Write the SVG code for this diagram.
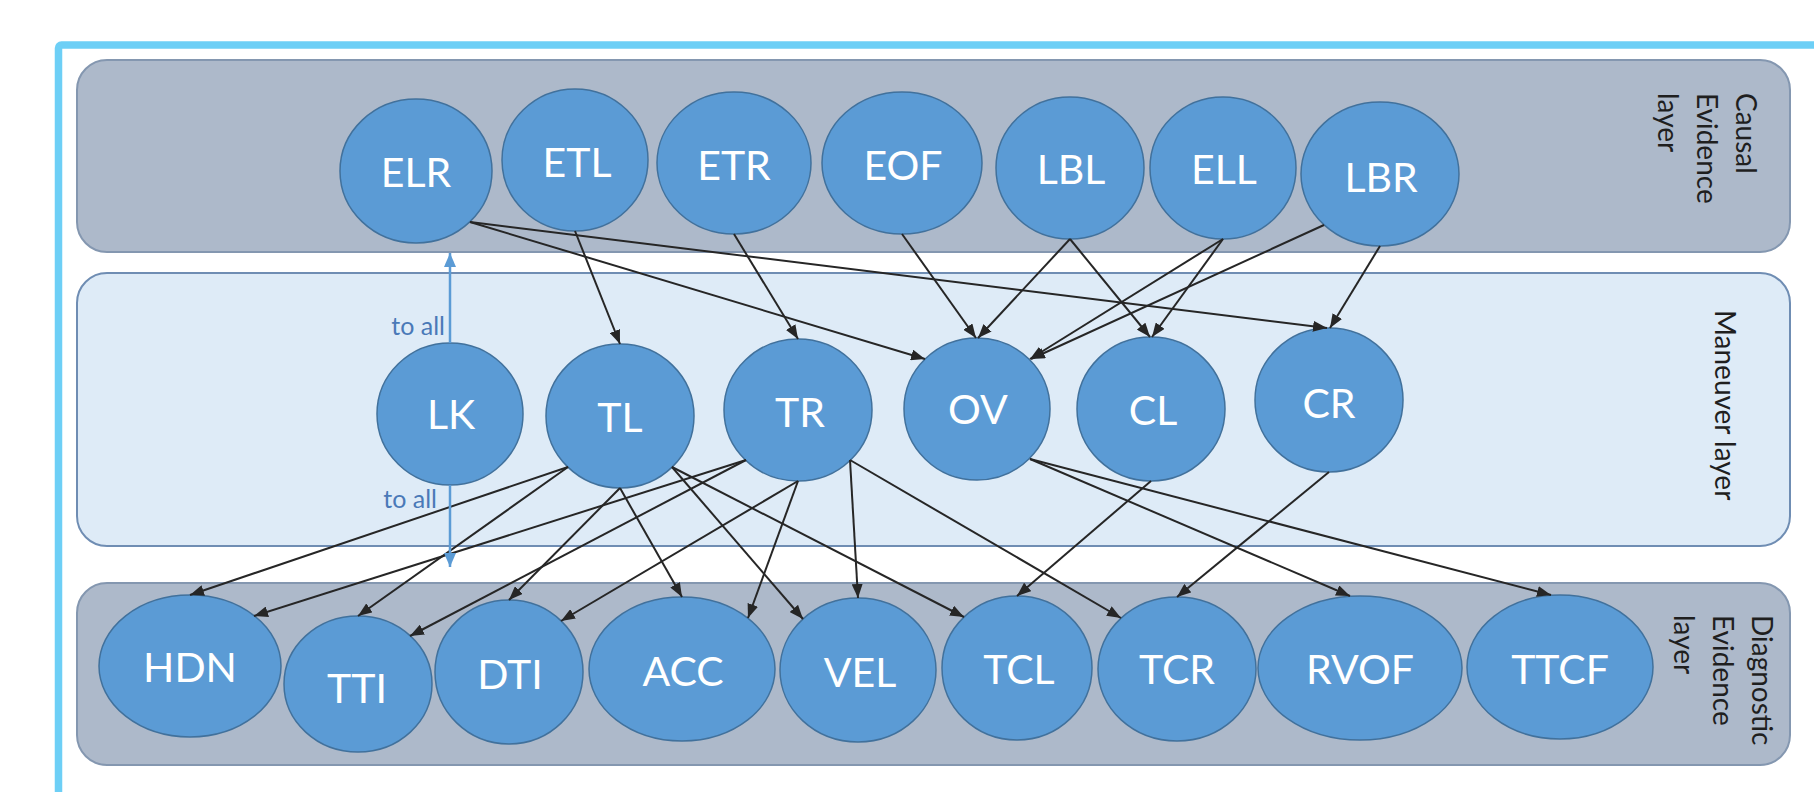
<svg xmlns="http://www.w3.org/2000/svg" width="1814" height="792" viewBox="0 0 1814 792">
  <defs>
    <marker id="ah" markerWidth="14" markerHeight="11" refX="14" refY="5.5" orient="auto" markerUnits="userSpaceOnUse">
      <path d="M0,0 L14,5.5 L0,11 z" fill="#262626"/>
    </marker>
    <marker id="ahBlue" markerWidth="14" markerHeight="12" refX="14" refY="6" orient="auto" markerUnits="userSpaceOnUse">
      <path d="M0,0 L14,6 L0,12 z" fill="#5B9BD5"/>
    </marker>
  </defs>
  <style>
    .layer-dark { fill: #ADB9CA; stroke: #8497B0; stroke-width: 2; }
    .layer-light { fill: #DEEBF7; stroke: #6F8DB3; stroke-width: 2; }
    .node ellipse { fill: #5B9BD5; stroke: #41719C; stroke-width: 1.5; }
    .node text { font-family: Lato, "Liberation Sans", sans-serif; font-size: 41px; fill: #FFFFFF; text-anchor: middle; }
    .edge { fill: none; stroke: #262626; stroke-width: 2; marker-end: url(#ah); }
    .link { fill: none; stroke: #5B9BD5; stroke-width: 2.5; marker-end: url(#ahBlue); }
    .layer-label { font-family: Lato, "Liberation Sans", sans-serif; font-size: 28px; fill: #1F1F1F; }
    .note { font-family: Lato, "Liberation Sans", sans-serif; font-size: 25px; fill: #4A79B8; text-anchor: end; }
  </style>

  <rect x="0" y="0" width="1814" height="792" fill="#FFFFFF"/>
  <!-- outer frame, open to the right and bottom -->
  <rect x="58.5" y="45" width="1800" height="800" rx="3" fill="none" stroke="#6DCFF6" stroke-width="7.5"/>

  <!-- layers -->
  <g id="layers">
    <rect id="causal-layer" class="layer-dark" x="77" y="60" width="1713" height="192" rx="30"/>
    <rect id="maneuver-layer" class="layer-light" x="77" y="273" width="1713" height="273" rx="30"/>
    <rect id="diagnostic-layer" class="layer-dark" x="77" y="583" width="1713" height="182" rx="30"/>
    <text class="layer-label" transform="translate(1736,93) rotate(90)"><tspan x="0" dy="0">Causal</tspan><tspan x="0" dy="39">Evidence</tspan><tspan x="0" dy="39">layer</tspan></text>
    <text class="layer-label" transform="translate(1715,310) rotate(90)">Maneuver layer</text>
    <text class="layer-label" transform="translate(1752,615) rotate(90)"><tspan x="0" dy="0">Diagnostic</tspan><tspan x="0" dy="39">Evidence</tspan><tspan x="0" dy="39">layer</tspan></text>
  </g>

  <!-- causal evidence nodes -->
  <g id="ELR" class="node"><ellipse cx="416" cy="171" rx="76" ry="72"/><text x="416" y="187">ELR</text></g>
  <g id="ETL" class="node"><ellipse cx="575" cy="160" rx="73" ry="71"/><text x="577" y="177">ETL</text></g>
  <g id="ETR" class="node"><ellipse cx="734" cy="163" rx="77" ry="71"/><text x="734" y="180">ETR</text></g>
  <g id="EOF" class="node"><ellipse cx="902" cy="163" rx="80" ry="71"/><text x="903" y="180">EOF</text></g>
  <g id="LBL" class="node"><ellipse cx="1070" cy="168" rx="74" ry="71"/><text x="1071" y="184">LBL</text></g>
  <g id="ELL" class="node"><ellipse cx="1223" cy="168" rx="73" ry="71"/><text x="1224" y="184">ELL</text></g>
  <g id="LBR" class="node"><ellipse cx="1380" cy="174" rx="79" ry="72"/><text x="1381" y="192">LBR</text></g>

  <!-- maneuver nodes -->
  <g id="LK" class="node"><ellipse cx="450" cy="414" rx="73" ry="71"/><text x="451" y="429">LK</text></g>
  <g id="TL" class="node"><ellipse cx="620" cy="416" rx="74" ry="72"/><text x="620" y="432">TL</text></g>
  <g id="TR" class="node"><ellipse cx="798" cy="410" rx="74" ry="71"/><text x="800" y="427">TR</text></g>
  <g id="OV" class="node"><ellipse cx="977" cy="409" rx="73" ry="71"/><text x="978" y="424">OV</text></g>
  <g id="CL" class="node"><ellipse cx="1151" cy="409" rx="74" ry="72"/><text x="1153" y="425">CL</text></g>
  <g id="CR" class="node"><ellipse cx="1329" cy="400" rx="74" ry="72"/><text x="1329" y="418">CR</text></g>

  <!-- diagnostic evidence nodes -->
  <g id="HDN" class="node"><ellipse cx="190" cy="666" rx="91" ry="71"/><text x="190" y="682">HDN</text></g>
  <g id="TTI" class="node"><ellipse cx="358" cy="684" rx="74" ry="68"/><text x="357" y="703">TTI</text></g>
  <g id="DTI" class="node"><ellipse cx="509" cy="672" rx="74" ry="72"/><text x="510" y="689">DTI</text></g>
  <g id="ACC" class="node"><ellipse cx="682" cy="669" rx="93" ry="72"/><text x="683" y="686">ACC</text></g>
  <g id="VEL" class="node"><ellipse cx="858" cy="670" rx="78" ry="72"/><text x="860" y="687">VEL</text></g>
  <g id="TCL" class="node"><ellipse cx="1017" cy="668" rx="75" ry="72"/><text x="1019" y="684">TCL</text></g>
  <g id="TCR" class="node"><ellipse cx="1177" cy="669" rx="79" ry="72"/><text x="1177" y="684">TCR</text></g>
  <g id="RVOF" class="node"><ellipse cx="1360" cy="668" rx="102" ry="72"/><text x="1360" y="684">RVOF</text></g>
  <g id="TTCF" class="node"><ellipse cx="1560" cy="667" rx="93" ry="72"/><text x="1560" y="684">TTCF</text></g>

  <!-- connectors -->
  <g id="connectors">
    <!-- causal evidence to maneuvers -->
    <path class="edge" d="M470,222 L925,359"/>
    <path class="edge" d="M470,222 L1327,328"/>
    <path class="edge" d="M575,231 L620,344"/>
    <path class="edge" d="M734,234 L798,339"/>
    <path class="edge" d="M902,234 L976,338"/>
    <path class="edge" d="M1070,239 L978,338"/>
    <path class="edge" d="M1070,239 L1150,337"/>
    <path class="edge" d="M1223,239 L1152,337"/>
    <path class="edge" d="M1223,239 L1030,359"/>
    <path class="edge" d="M1324,225 L1031,359"/>
    <path class="edge" d="M1380,246 L1330,328"/>

    <!-- maneuvers to diagnostic evidence -->
    <path class="edge" d="M568,467 L190,595"/>
    <path class="edge" d="M568,467 L358,616"/>
    <path class="edge" d="M620,488 L509,600"/>
    <path class="edge" d="M620,488 L682,597"/>
    <path class="edge" d="M672,467 L803,619"/>
    <path class="edge" d="M672,467 L964,617"/>
    <path class="edge" d="M746,460 L254,616"/>
    <path class="edge" d="M746,460 L410,636"/>
    <path class="edge" d="M798,481 L561,621"/>
    <path class="edge" d="M798,481 L748,618"/>
    <path class="edge" d="M850,460 L858,598"/>
    <path class="edge" d="M850,460 L1121,618"/>
    <path class="edge" d="M1030,459 L1350,596"/>
    <path class="edge" d="M1030,459 L1551,595"/>
    <path class="edge" d="M1151,481 L1017,596"/>
    <path class="edge" d="M1329,472 L1177,597"/>

    <!-- lane keeping links to all other nodes -->
    <path class="link" d="M450,343 L450,253"/>
    <path class="link" d="M450,485 L450,567"/>
    <text class="note" x="445" y="335">to all</text>
    <text class="note" x="437" y="508">to all</text>
  </g>
</svg>
